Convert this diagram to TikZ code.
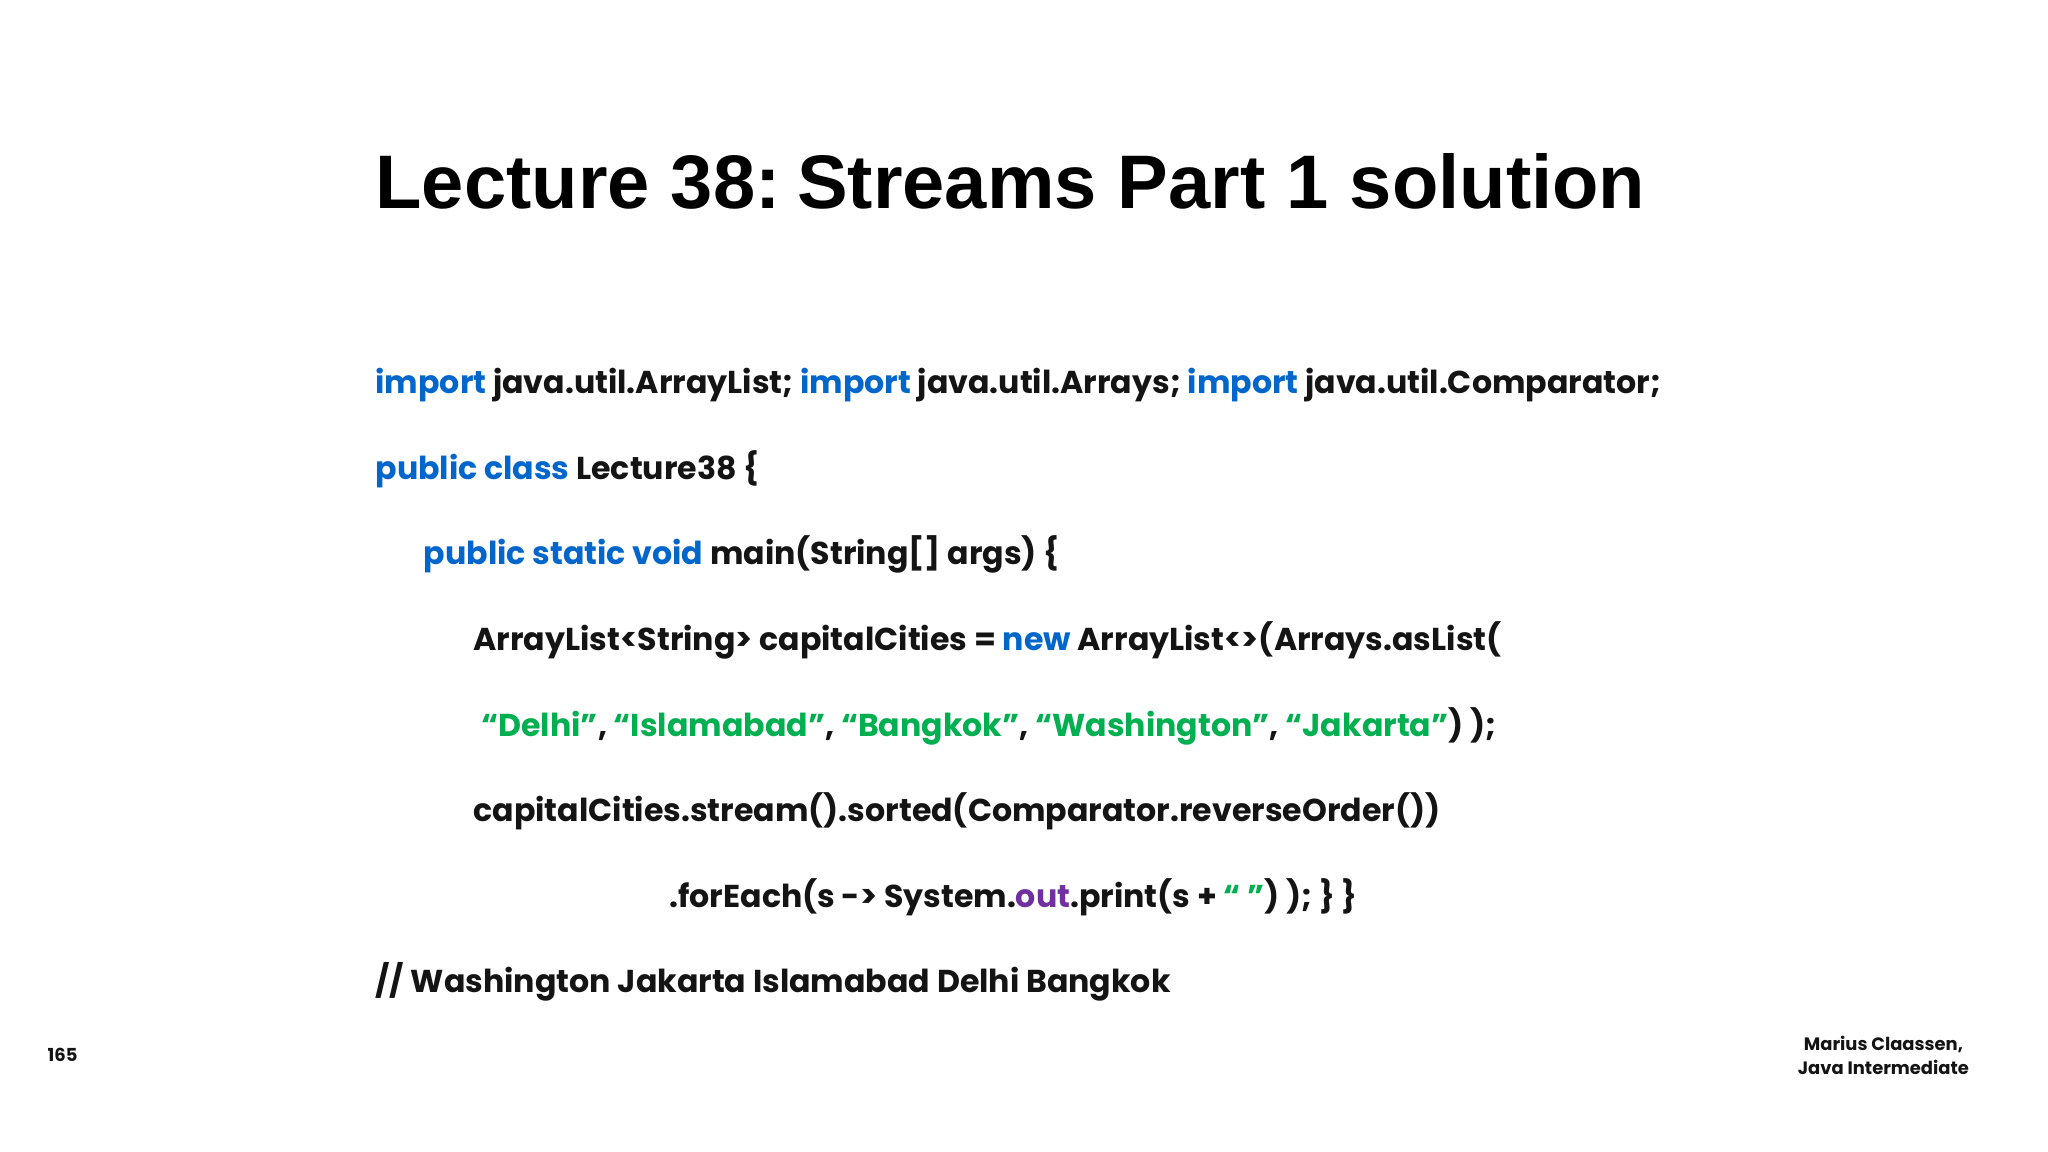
\documentclass[tikz,border=0pt]{standalone}
\usepackage{fontspec}
\setmainfont{Poppins}
\newfontfamily\titlefont{Liberation Sans}
\definecolor{kw}{RGB}{0,102,204}
\definecolor{st}{RGB}{0,176,80}
\definecolor{pu}{RGB}{112,48,160}
\definecolor{tx}{RGB}{20,20,20}
\begin{document}
\begin{tikzpicture}[x=0.013061cm,y=-0.013061cm,
  code/.style={anchor=base west,inner sep=0pt,font=\fontsize{9pt}{11pt}\selectfont\bfseries,text=tx},
  small/.style={inner sep=0pt,font=\fontsize{5.1pt}{6.6pt}\selectfont\bfseries,text=tx,align=center}]
\useasboundingbox (0,0) rectangle (1568,882);
\fill[white] (0,0) rectangle (1568,882);
\node[anchor=base west,inner sep=0pt,font=\titlefont\fontsize{21.6pt}{26pt}\selectfont\bfseries] (title) at (287,160) {Lecture 38:\kern-0.15em{} Streams Part 1 solution};
\node[code] (l1) at (287,301) {\textcolor{kw}{import} java.util.ArrayList; \textcolor{kw}{import} java.util.Arrays; \textcolor{kw}{import} java.util.Comparator;};
\node[code] (l2) at (287,367) {\textcolor{kw}{public class} Lecture38 \{};
\node[code] (l3) at (324,432) {\textcolor{kw}{public static void} main(String[] args) \{};
\node[code] (l4) at (362,498) {ArrayList<String> capitalCities = \textcolor{kw}{new} ArrayList<>(Arrays.asList(};
\node[code] (l5) at (368,564) {\textcolor{st}{“Delhi”}, \textcolor{st}{“Islamabad”}, \textcolor{st}{“Bangkok”}, \textcolor{st}{“Washington”}, \textcolor{st}{“Jakarta”}) );};
\node[code] (l6) at (362,629) {capitalCities.stream().sorted(Comparator.reverseOrder())};
\node[code] (l7) at (512,695) {.forEach(s -> System.\textcolor{pu}{out}.print(s + \textcolor{st}{“ ”}) ); \} \}};
\node[code] (l8) at (287,760) {// Washington Jakarta Islamabad Delhi Bangkok};
\node[small,anchor=west] (pg) at (36,808) {165};
\node[small,anchor=east] (au) at (1508,808) {Marius Claassen,\\Java Intermediate};
\end{tikzpicture}
\end{document}
